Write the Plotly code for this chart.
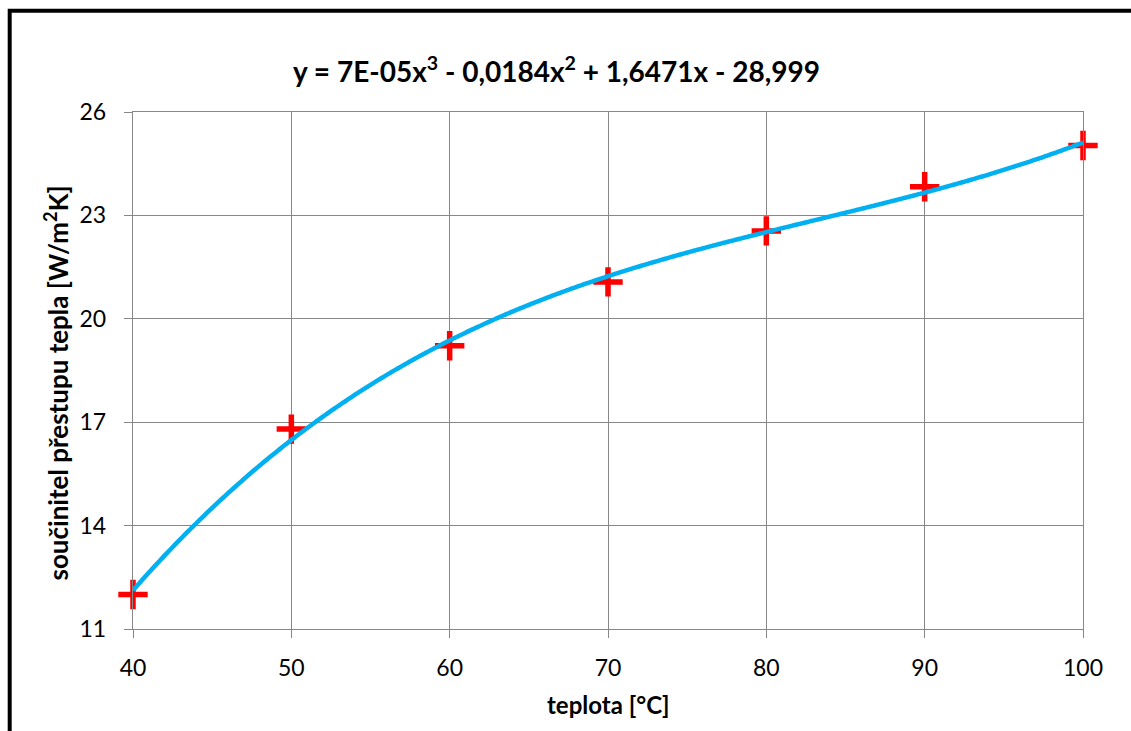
import numpy as np
import plotly.graph_objects as go

# Data
teplota = [40, 50, 60, 70, 80, 90, 100]
soucinitel = [12.0, 16.8, 19.22, 21.07, 22.55, 23.83, 25.03]

x_ticks = [40, 50, 60, 70, 80, 90, 100]
y_ticks = [11, 14, 17, 20, 23, 26]

title_text = "y = 7E-05x<sup>3</sup> - 0,0184x<sup>2</sup> + 1,6471x - 28,999"
x_title = "teplota [°C]"
y_title = "součinitel přestupu tepla [W/m<sup>2</sup>K]"

# Polynomial (3rd order) trendline, as the spreadsheet computes it from the data
coef = np.polyfit(teplota, soucinitel, 3)
trend_x = np.linspace(min(teplota), max(teplota), 300)
trend_y = np.polyval(coef, trend_x)

FONT = "Lato"
GRID = "#878787"

fig = go.Figure()
fig.add_trace(go.Scatter(
    x=teplota, y=soucinitel, mode="markers",
    marker=dict(symbol="cross-thin", size=21, color="#ff0000",
                line=dict(color="#ff0000", width=5.5)),
    cliponaxis=False, showlegend=False, hoverinfo="x+y"))
fig.add_trace(go.Scatter(
    x=trend_x, y=trend_y, mode="lines",
    line=dict(color="#00b0f0", width=4.5, shape="spline"),
    cliponaxis=False, showlegend=False, hoverinfo="skip"))

fig.update_layout(
    width=1131, height=731,
    margin=dict(l=133, r=48, t=112, b=102),
    paper_bgcolor="white", plot_bgcolor="white",
    font=dict(family=FONT, color="black"),
    xaxis=dict(range=[40, 100], tickvals=x_ticks, showgrid=True,
               gridcolor=GRID, gridwidth=1.4, showline=True, linecolor=GRID,
               linewidth=1.4, mirror=True, ticks="outside", ticklen=8,
               tickcolor=GRID, tickwidth=1.4, zeroline=False,
               tickfont=dict(size=23, family=FONT, color="black"),
               ticklabelstandoff=10, automargin=False),
    yaxis=dict(range=[11, 26], tickvals=y_ticks, showgrid=True,
               gridcolor=GRID, gridwidth=1.4, showline=True, linecolor=GRID,
               linewidth=1.4, mirror=True, ticks="outside", ticklen=8,
               tickcolor=GRID, tickwidth=1.4, zeroline=False,
               tickfont=dict(size=23, family=FONT, color="black"),
               ticklabelstandoff=13, automargin=False),
    annotations=[
        dict(text="<b>" + title_text + "</b>", xref="paper", yref="paper",
             x=(556 - 133) / 950, y=(629.5 - 70) / 517, showarrow=False,
             xanchor="center", yanchor="middle",
             font=dict(size=28, family=FONT, color="black")),
        dict(text="<b>" + x_title + "</b>", xref="paper", yref="paper",
             x=(608 - 133) / 950, y=(629.5 - 705) / 517, showarrow=False,
             xanchor="center", yanchor="middle",
             font=dict(size=24, family=FONT, color="black")),
        dict(text="<b>" + y_title + "</b>", xref="paper", yref="paper",
             x=(57 - 133) / 950, y=(629.5 - 384) / 517, showarrow=False,
             textangle=-90, xanchor="center", yanchor="middle",
             font=dict(size=26, family=FONT, color="black")),
    ],
    shapes=[dict(type="rect", xref="paper", yref="paper",
                 x0=(9.7 - 133) / 950, x1=1.3,
                 y0=-0.5, y1=(629.5 - 11.3) / 517,
                 line=dict(color="black", width=4), layer="above")],
)

fig.write_html("out.html")
